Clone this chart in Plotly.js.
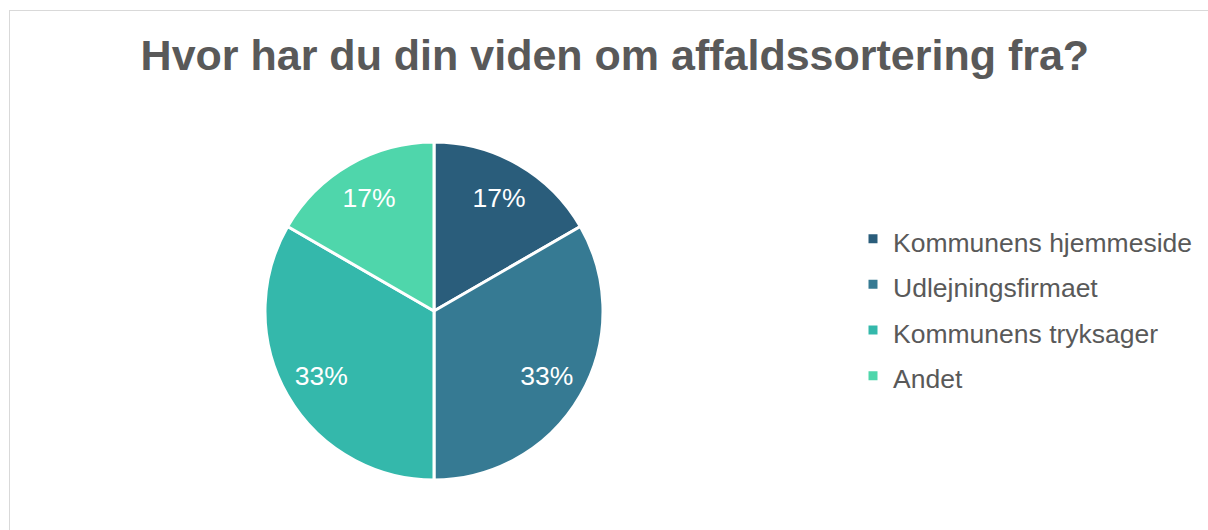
<!DOCTYPE html>
<html><head><meta charset="utf-8">
<script src="https://cdn.plot.ly/plotly-3.0.1.min.js"></script>
<style>
body{margin:0;background:#fff;}
#wrap{position:relative;width:1208px;height:530px;overflow:hidden;}
#chart{position:absolute;left:0;top:0;width:1208px;height:530px;}
#frame{position:absolute;left:9px;top:10px;width:1300px;height:600px;border:1px solid #d9d9d9;pointer-events:none;}
</style></head>
<body><div id="wrap"><div id="chart"></div><div id="frame"></div></div>
<script>
const categories = ["Kommunens hjemmeside", "Udlejningsfirmaet", "Kommunens tryksager", "Andet"];
const values = [1, 2, 2, 1];
const colors = ["#2a5d7b", "#367a93", "#34b8ab", "#4fd6ab"];
const titleText = "Hvor har du din viden om affaldssortering fra?";

const FONT = "Liberation Sans, Arial, sans-serif";
const pieDomain = {x: [265/1208, 603/1208], y: [50/530, 388/530]};
const legendLabels = categories.map(c => '<span style="font-size:26.5px">' + c + '</span>');

// main pie (slices + legend)
const pie = {
  type: "pie",
  labels: legendLabels,
  values: values,
  sort: false,
  direction: "clockwise",
  rotation: 0,
  marker: {colors: colors, line: {color: "#ffffff", width: 3}},
  textinfo: "none",
  hoverinfo: "label+percent",
  domain: pieDomain
};
// overlay ring carrying the percentage labels (positions them toward the rim)
const labelsRing = {
  type: "pie",
  labels: legendLabels,
  values: values,
  sort: false,
  direction: "clockwise",
  rotation: 0,
  hole: 0.54,
  showlegend: false,
  marker: {colors: colors.map(() => "rgba(0,0,0,0)"), line: {width: 0}},
  texttemplate: "%{percent:.0%}",
  textposition: "inside",
  insidetextorientation: "horizontal",
  textfont: {family: FONT, size: 26.5, color: "#ffffff"},
  hoverinfo: "skip",
  domain: pieDomain
};

const layout = {
  width: 1208, height: 530,
  margin: {l: 0, r: 0, t: 0, b: 0},
  paper_bgcolor: "#ffffff",
  title: {text: "<b>" + titleText + "</b>", x: 0.509, xanchor: "center", y: 0.896, yanchor: "middle",
          font: {family: FONT, size: 43, color: "#595959"}},
  showlegend: true,
  legend: {x: 853/1208, xanchor: "left", y: 0.42, yanchor: "middle",
           font: {family: FONT, size: 32.8, color: "#595959"},
           itemwidth: 30}
};
Plotly.newPlot("chart", [pie, labelsRing], layout, {displayModeBar: false, staticPlot: true});
</script></body></html>
